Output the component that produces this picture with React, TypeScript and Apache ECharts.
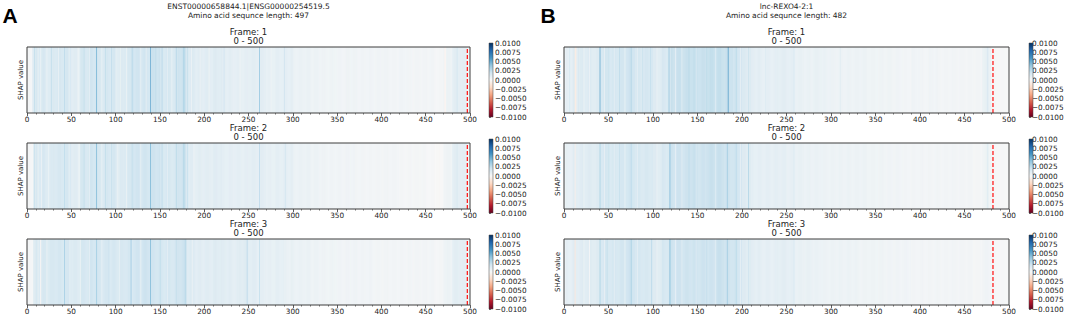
import React, { useEffect, useRef } from "react";
import * as echarts from "echarts";

// ---------------- data ----------------
const xTickLabels = [0, 50, 100, 150, 200, 250, 300, 350, 400, 450, 500];
const colorbarTicks = [0.01, 0.0075, 0.005, 0.0025, 0, -0.0025, -0.005, -0.0075, -0.01];
const frames = ["Frame: 1", "Frame: 2", "Frame: 3"];
const windowLabel = "0 - 500";
const titleA = ["ENST00000658844.1|ENSG00000254519.5", "Amino acid sequnce length: 497"];
const titleB = ["lnc-REXO4-2:1", "Amino acid sequnce length: 482"];
const seqLenA = 497;
const seqLenB = 482;

// base SHAP value per block of 10 positions (50 blocks = 0..500)
const baseA1 = [0.0014,0.0017,0.0015,0.0017,0.0018,0.0012,0.0018,0.0020,0.0017,0.0018,
  0.0014,0.0017,0.0020,0.0020,0.0022,0.0018,0.0017,0.0022,0.0014,0.0012,
  0.0012,0.0013,0.0011,0.0010,0.0010,0.0011,0.0011,0.0009,0.0010,0.0010,
  0.0007,0.0007,0.0006,0.0005,0.0005,0.0004,0.0005,0.0004,0.0004,0.0004,
  0.0004,0.0003,0.0004,0.0003,0.0003,0.0003,0.0002,0.0006,0.0011,0.0010];
const baseA2 = [0.0013,0.0017,0.0015,0.0017,0.0018,0.0012,0.0018,0.0020,0.0017,0.0018,
  0.0014,0.0017,0.0020,0.0020,0.0021,0.0018,0.0017,0.0021,0.0012,0.0011,
  0.0011,0.0012,0.0010,0.0010,0.0010,0.0011,0.0011,0.0009,0.0010,0.0010,
  0.0007,0.0007,0.0006,0.0005,0.0004,0.0004,0.0004,0.0003,0.0003,0.0003,
  0.0003,0.0003,0.0002,0.0002,0.0002,0.0001,0.0000,0.0005,0.0011,0.0010];
const baseA3 = [0.0013,0.0017,0.0017,0.0018,0.0018,0.0015,0.0018,0.0020,0.0018,0.0018,
  0.0017,0.0018,0.0020,0.0021,0.0020,0.0018,0.0018,0.0021,0.0014,0.0012,
  0.0012,0.0013,0.0012,0.0011,0.0013,0.0012,0.0010,0.0009,0.0010,0.0008,
  0.0007,0.0007,0.0006,0.0005,0.0005,0.0004,0.0004,0.0004,0.0004,0.0003,
  0.0003,0.0003,0.0003,0.0003,0.0003,0.0003,0.0002,0.0006,0.0011,0.0010];
const baseB1 = [0.0010,0.0013,0.0014,0.0013,0.0019,0.0018,0.0019,0.0021,0.0017,0.0018,
  0.0013,0.0017,0.0023,0.0023,0.0024,0.0023,0.0024,0.0024,0.0023,0.0020,
  0.0014,0.0011,0.0010,0.0010,0.0011,0.0010,0.0008,0.0007,0.0008,0.0007,
  0.0006,0.0006,0.0006,0.0006,0.0005,0.0005,0.0005,0.0004,0.0003,0.0004,
  0.0003,0.0004,0.0003,0.0003,0.0003,0.0003,0.0003,0.0008,0.0002,0.0001];
const baseB2 = [0.0009,0.0012,0.0013,0.0013,0.0018,0.0017,0.0018,0.0020,0.0017,0.0017,
  0.0013,0.0017,0.0021,0.0021,0.0023,0.0021,0.0023,0.0023,0.0021,0.0020,
  0.0013,0.0010,0.0010,0.0010,0.0010,0.0009,0.0008,0.0007,0.0007,0.0006,
  0.0006,0.0006,0.0006,0.0006,0.0005,0.0005,0.0004,0.0004,0.0003,0.0003,
  0.0003,0.0003,0.0003,0.0003,0.0003,0.0003,0.0002,0.0005,0.0002,0.0001];
const baseB3 = [0.0010,0.0012,0.0013,0.0013,0.0018,0.0018,0.0019,0.0021,0.0018,0.0017,
  0.0013,0.0018,0.0021,0.0021,0.0021,0.0021,0.0021,0.0023,0.0021,0.0020,
  0.0013,0.0011,0.0010,0.0010,0.0011,0.0010,0.0008,0.0008,0.0007,0.0006,
  0.0006,0.0006,0.0006,0.0005,0.0005,0.0005,0.0004,0.0004,0.0004,0.0003,
  0.0003,0.0003,0.0003,0.0003,0.0003,0.0003,0.0002,0.0004,0.0002,0.0001];

// individual stripes: [start position, width, SHAP value]
const stripesA1 = [[0,6,0.0002],[8,1,0.0024],[12,1,0.0006],[15,1,0.0008],[22,1,0.0008],[27,1,0.0024],
  [35,1,0.0008],[42,1,0.0028],[47,1,0.0008],[57,2,0.0008],[64,1,0.0024],[70,1,0.001],[78,1,0.0045],
  [84,1,0.0009],[88,1,0.0024],[95,1,0.0026],[100,1,0.0008],[105,1,0.0008],[112,1,0.0008],
  [118,2,0.0027],[128,1,0.001],[134,1,0.0009],[139,1,0.005],[145,1,0.0028],[152,1,0.0028],
  [158,1,0.001],[163,1,0.0009],[168,1,0.0028],[176,2,0.0029],[181,1,0.0027],[185,1,0.0005],
  [195,1,0.0006],[205,1,0.0005],[222,1,0.002],[240,1,0.0005],[262,1,0.0038],[275,1,0.0005],
  [290,1,0.002],[471,2,-0.0003],[485,1,0.0018],[497,3,0.0001]];
const stripesA2 = [[0,7,0.0002],[8,1,0.0022],[12,1,0.0006],[16,1,0.0008],[24,1,0.0008],[42,1,0.0027],
  [47,1,0.0008],[58,2,0.0008],[64,1,0.0024],[70,1,0.001],[78,1,0.0042],[84,1,0.0009],[88,1,0.0024],
  [95,1,0.0024],[102,1,0.0008],[112,1,0.0008],[118,2,0.0024],[128,1,0.001],[139,1,0.0045],
  [152,1,0.0026],[158,1,0.001],[168,1,0.0027],[176,2,0.0027],[181,1,0.0026],[188,1,0.0005],
  [262,1,0.0026],[291,1,0.0019],[462,4,-0.0001],[485,1,0.0016],[497,3,0.0001]];
const stripesA3 = [[0,7,0.0002],[12,1,0.0007],[15,1,-0.0002],[22,1,0.0008],[42,1,0.0036],[48,1,0.0009],
  [60,1,0.0009],[70,1,0.001],[78,1,0.0034],[84,1,0.001],[92,1,0.0024],[104,1,0.001],[117,1,0.0036],
  [128,1,0.001],[139,1,0.0044],[150,1,0.0024],[158,1,0.001],[168,1,0.0024],[178,2,0.0027],
  [186,1,0.0006],[248,1,0.0026],[262,1,0.0024],[497,3,0.0001]];
const stripesB1 = [[0,2,0.0006],[6,1,0.002],[12,2,-0.0008],[16,1,0.0018],[22,1,0.0006],[28,1,0.0006],
  [40,1,0.0052],[45,1,0.0009],[50,1,0.0024],[56,1,0.001],[62,1,0.0027],[68,1,0.001],[75,1,0.0029],
  [82,1,0.001],[88,1,0.0024],[97,1,0.0027],[104,1,0.0008],[117,2,0.0028],[125,1,0.001],
  [132,1,0.0014],[140,1,0.0029],[148,1,0.0014],[160,1,0.0029],[170,1,0.0014],[184,1,0.0052],
  [193,1,0.0027],[198,1,0.001],[207,1,0.0023],[226,1,0.0015],[258,1,0.0016],[310,1,0.0011],
  [475,2,0.0014],[482,18,0.0001]];
const stripesB2 = [[0,2,0.0006],[12,1,-0.0006],[22,1,0.0006],[40,1,0.0034],[45,1,0.0009],[50,1,0.0024],
  [56,1,0.001],[62,1,0.0024],[68,1,0.001],[75,1,0.0026],[82,1,0.001],[104,1,0.0008],[118,2,0.0031],
  [125,1,0.001],[132,1,0.0014],[140,1,0.0027],[148,1,0.0014],[170,1,0.0014],[183,1,0.0034],
  [193,1,0.0026],[198,1,0.001],[207,1,0.0032],[258,1,0.0015],[475,2,0.0011],[482,18,0.0001]];
const stripesB3 = [[0,2,0.0006],[12,1,-0.0012],[22,1,0.0006],[28,1,0.0],[40,1,0.0034],[45,1,0.0009],
  [48,1,0.0024],[56,1,0.001],[68,1,0.001],[75,1,0.0032],[82,1,0.001],[98,1,0.0028],[104,1,0.0008],
  [118,2,0.0032],[125,1,0.001],[132,1,0.0014],[148,1,0.0014],[160,1,0.0026],[170,1,0.0014],
  [183,1,0.0034],[193,1,0.0027],[198,1,0.001],[207,1,0.0022],[258,1,0.0016],[482,18,0.0001]];

const RDBU = ["#67001f","#b2182b","#d6604d","#f4a582","#fddbc7","#f7f7f7",
  "#d1e5f0","#92c5de","#4393c3","#2166ac","#053061"];

// ---------------- helpers ----------------
function buildCells(base: number[], stripes: number[][]) {
  const cells: number[] = [];
  for (let i = 0; i < 500; i++) cells.push(base[Math.floor(i / 10)]);
  stripes.forEach(([s, w, v]) => {
    for (let i = s; i < s + w && i < 500; i++) cells[i] = v;
  });
  return cells;
}
function colorFor(v: number) {
  let t = (v + 0.01) / 0.02;
  t = Math.max(0, Math.min(1, t));
  return echarts.color.lerp(t, RDBU) as string;
}
const fmtCb = (v: number) => {
  const a = Math.abs(v).toFixed(4);
  return v < -1e-9 ? "\u2212" + a : a;
};

const FONT = "DejaVu Sans";

export default function App() {
  const ref = useRef<HTMLDivElement>(null);
  useEffect(() => {
    document.body.style.margin = "0";
    const chart = echarts.init(ref.current!, undefined, { renderer: "svg" });

    const panels = [
      { left: 27, width: 443, cbLeft: 489, letter: "A", letterX: 10, title: titleA, len: seqLenA,
        strips: [buildCells(baseA1, stripesA1), buildCells(baseA2, stripesA2), buildCells(baseA3, stripesA3)] },
      { left: 564, width: 445, cbLeft: 1029, letter: "B", letterX: 548, title: titleB, len: seqLenB,
        strips: [buildCells(baseB1, stripesB1), buildCells(baseB2, stripesB2), buildCells(baseB3, stripesB3)] },
    ];
    const stripTops = [47, 143, 239];
    const stripH = 66;

    const grid: any[] = [];
    const xAxis: any[] = [];
    const yAxis: any[] = [];
    const series: any[] = [];
    const graphic: any[] = [];

    panels.forEach((p) => {
      const cx = p.left + p.width / 2;
      graphic.push({ type: "text", x: p.letterX, y: 15, z: 100,
        style: { text: p.letter, font: `bold 21px "Liberation Sans", Arial, sans-serif`, fill: "#000", align: "center", verticalAlign: "middle" } });
      graphic.push({ type: "text", x: cx, y: 6, z: 100,
        style: { text: p.title[0], font: `7.5px "${FONT}"`, fill: "#222", align: "center", verticalAlign: "middle" } });
      graphic.push({ type: "text", x: cx, y: 15.5, z: 100,
        style: { text: p.title[1], font: `7.5px "${FONT}"`, fill: "#222", align: "center", verticalAlign: "middle" } });

      p.strips.forEach((cells, k) => {
        const top = stripTops[k];
        const gi = grid.length;
        grid.push({ left: p.left, top, width: p.width, height: stripH });
        xAxis.push({
          gridIndex: gi, type: "value", min: 0, max: 500, interval: 50,
          axisLine: { show: false },
          axisTick: { show: true, length: 3, lineStyle: { color: "#333", width: 0.8 } },
          minorTick: { show: true, splitNumber: 5, length: 1.6, lineStyle: { color: "#333", width: 0.6 } },
          splitLine: { show: false },
          axisLabel: { fontSize: 7.3, color: "#222", margin: 3, fontFamily: FONT,
            formatter: (v: number) => (xTickLabels.indexOf(v) >= 0 ? String(v) : "") },
        });
        yAxis.push({
          gridIndex: gi, type: "value", min: 0, max: 1,
          axisLine: { show: false }, axisTick: { show: false }, axisLabel: { show: false },
          splitLine: { show: false },
          name: "SHAP value", nameLocation: "middle", nameGap: 3, nameRotate: 90,
          nameTextStyle: { fontSize: 7, color: "#222", fontFamily: FONT },
        });
        series.push({
          type: "custom", xAxisIndex: gi, yAxisIndex: gi, silent: true, clip: true,
          data: cells.map((v, i) => [i, v]),
          encode: { x: 0 },
          renderItem: (params: any, api: any) => {
            const x = api.value(0);
            const v = api.value(1);
            const p0 = api.coord([x, 1]);
            const p1 = api.coord([x + 1, 0]);
            return {
              type: "rect",
              shape: { x: p0[0], y: p0[1], width: p1[0] - p0[0] + 0.35, height: p1[1] - p0[1] },
              style: { fill: colorFor(v), stroke: null },
            };
          },
        });
        series.push({
          type: "line", xAxisIndex: gi, yAxisIndex: gi, silent: true, symbol: "none", z: 10,
          data: [[p.len, 0], [p.len, 1]],
          lineStyle: { color: "#ff1f1f", width: 1.3, type: [4, 2] },
        });
        graphic.push({ type: "rect", z: 100, silent: true,
          shape: { x: p.left, y: top, width: p.width, height: stripH },
          style: { fill: "none", stroke: "#3c3c3c", lineWidth: 1 } });
        graphic.push({ type: "text", x: cx, y: top - 15, z: 100,
          style: { text: frames[k], font: `8.5px "${FONT}"`, fill: "#222", align: "center", verticalAlign: "middle" } });
        graphic.push({ type: "text", x: cx, y: top - 6, z: 100,
          style: { text: windowLabel, font: `8.5px "${FONT}"`, fill: "#222", align: "center", verticalAlign: "middle" } });

        const ci = grid.length;
        const cbTop = top - 4;
        const cbH = 74;
        grid.push({ left: p.cbLeft, top: cbTop, width: 4, height: cbH });
        xAxis.push({ gridIndex: ci, type: "value", min: 0, max: 1, show: false });
        yAxis.push({
          gridIndex: ci, type: "value", position: "right", min: -0.01, max: 0.01, interval: 0.0025,
          axisLine: { show: false },
          axisTick: { show: true, length: 2, lineStyle: { color: "#333", width: 0.7 } },
          splitLine: { show: false },
          axisLabel: { fontSize: 7.3, color: "#222", margin: 2, fontFamily: FONT,
            formatter: (v: number) => {
              const hit = colorbarTicks.find((t) => Math.abs(t - v) < 1e-7);
              return hit === undefined ? "" : fmtCb(hit);
            } },
        });
        series.push({ type: "line", xAxisIndex: ci, yAxisIndex: ci, data: [], silent: true });
        graphic.push({ type: "rect", z: 50, silent: true,
          shape: { x: p.cbLeft, y: cbTop, width: 4, height: cbH },
          style: {
            fill: new echarts.graphic.LinearGradient(0, 0, 0, 1,
              RDBU.slice().reverse().map((c, i) => ({ offset: i / (RDBU.length - 1), color: c }))),
            stroke: "#444", lineWidth: 0.5,
          } });
      });
    });

    chart.setOption({
      animation: false,
      backgroundColor: "#ffffff",
      grid, xAxis, yAxis, series, graphic,
    });
    return () => chart.dispose();
  }, []);
  return <div ref={ref} style={{ width: 1065, height: 317 }} />;
}
